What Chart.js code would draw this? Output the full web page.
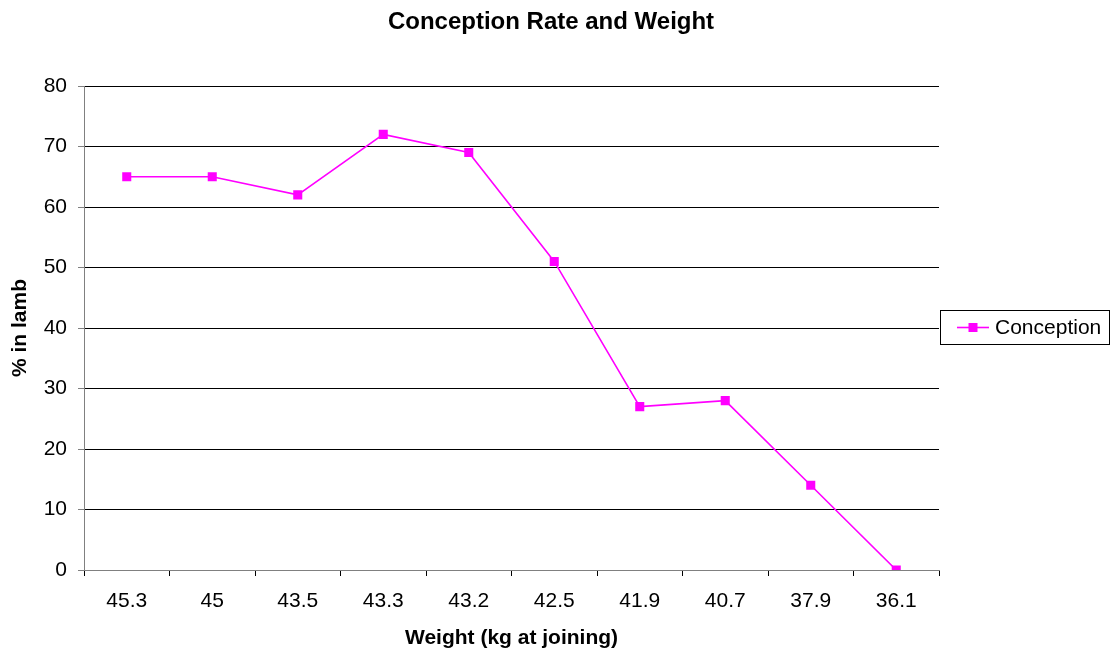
<!DOCTYPE html>
<html>
<head>
<meta charset="utf-8">
<script src="https://cdn.jsdelivr.net/npm/chart.js@4"></script>
<style>
  html, body { margin: 0; padding: 0; background: #fff; }
  #wrap { width: 1118px; height: 652px; position: relative; }
</style>
</head>
<body>
<div id="wrap"><canvas id="c" width="1118" height="652"></canvas></div>
<script>
const chartTitle = 'Conception Rate and Weight';
const xTitle = 'Weight (kg at joining)';
const yTitle = '% in lamb';
const seriesName = 'Conception';
const weights = ['45.3', '45', '43.5', '43.3', '43.2', '42.5', '41.9', '40.7', '37.9', '36.1'];
const conception = [65, 65, 62, 72, 69, 51, 27, 28, 14, 0];

const FONT = 'Liberation Sans, Arial, sans-serif';
const MAGENTA = '#FF00FF';

// Titles and the boxed legend, drawn on top of the chart
const decorations = {
  id: 'decorations',
  afterDraw(chart) {
    const ctx = chart.ctx;
    const area = chart.chartArea;
    ctx.save();
    ctx.fillStyle = '#000';
    ctx.textBaseline = 'middle';
    ctx.textAlign = 'center';
    ctx.font = 'bold 24px ' + FONT;
    ctx.fillText(chartTitle, 551, 22);
    ctx.font = 'bold 21px ' + FONT;
    ctx.fillText(xTitle, (area.left + area.right) / 2, 638);
    ctx.save();
    ctx.translate(20, (area.top + area.bottom) / 2);
    ctx.rotate(-Math.PI / 2);
    ctx.fillText(yTitle, 0, 0);
    ctx.restore();

    // legend box
    const bx = 940.5, by = 310.5, bw = 169, bh = 34;
    ctx.strokeStyle = '#000';
    ctx.lineWidth = 1;
    ctx.strokeRect(bx, by, bw, bh);
    const ly = by + bh / 2;
    ctx.strokeStyle = MAGENTA;
    ctx.lineWidth = 1.6;
    ctx.beginPath();
    ctx.moveTo(957, ly);
    ctx.lineTo(989, ly);
    ctx.stroke();
    ctx.fillStyle = MAGENTA;
    ctx.fillRect(968.5, ly - 4.5, 9, 9);
    ctx.fillStyle = '#000';
    ctx.textAlign = 'left';
    ctx.font = '21px ' + FONT;
    ctx.fillText(seriesName, 995, ly + 1);
    ctx.restore();
  }
};

new Chart(document.getElementById('c'), {
  type: 'line',
  data: {
    labels: weights,
    datasets: [{
      label: seriesName,
      data: conception,
      borderColor: MAGENTA,
      backgroundColor: MAGENTA,
      borderWidth: 1.6,
      pointStyle: 'rect',
      pointRadius: 6.4,
      pointBorderWidth: 0,
      tension: 0,
      fill: false
    }]
  },
  options: {
    responsive: false,
    animation: false,
    events: [],
    layout: { padding: { left: 0, right: 179, top: 86, bottom: 0 } },
    plugins: {
      legend: { display: false },
      title: { display: false },
      tooltip: { enabled: false }
    },
    scales: {
      x: {
        offset: true,
        afterFit(scale) { scale.height = 82; },
        grid: {
          offset: true,
          drawOnChartArea: false,
          drawTicks: true,
          tickLength: 6,
          tickColor: '#000',
          color: '#000'
        },
        border: { color: '#808080', width: 1 },
        ticks: {
          color: '#000',
          font: { family: FONT, size: 21 },
          padding: 13,
          maxRotation: 0,
          autoSkip: false
        }
      },
      y: {
        min: 0,
        max: 80,
        afterFit(scale) { scale.width = 84; },
        grid: {
          color: '#000',
          lineWidth: 1,
          drawTicks: true,
          tickLength: 6,
          tickColor: '#808080'
        },
        border: { color: '#808080', width: 1 },
        ticks: {
          stepSize: 10,
          color: '#000',
          font: { family: FONT, size: 21 },
          padding: 11
        }
      }
    }
  },
  plugins: [decorations]
});
</script>
</body>
</html>
